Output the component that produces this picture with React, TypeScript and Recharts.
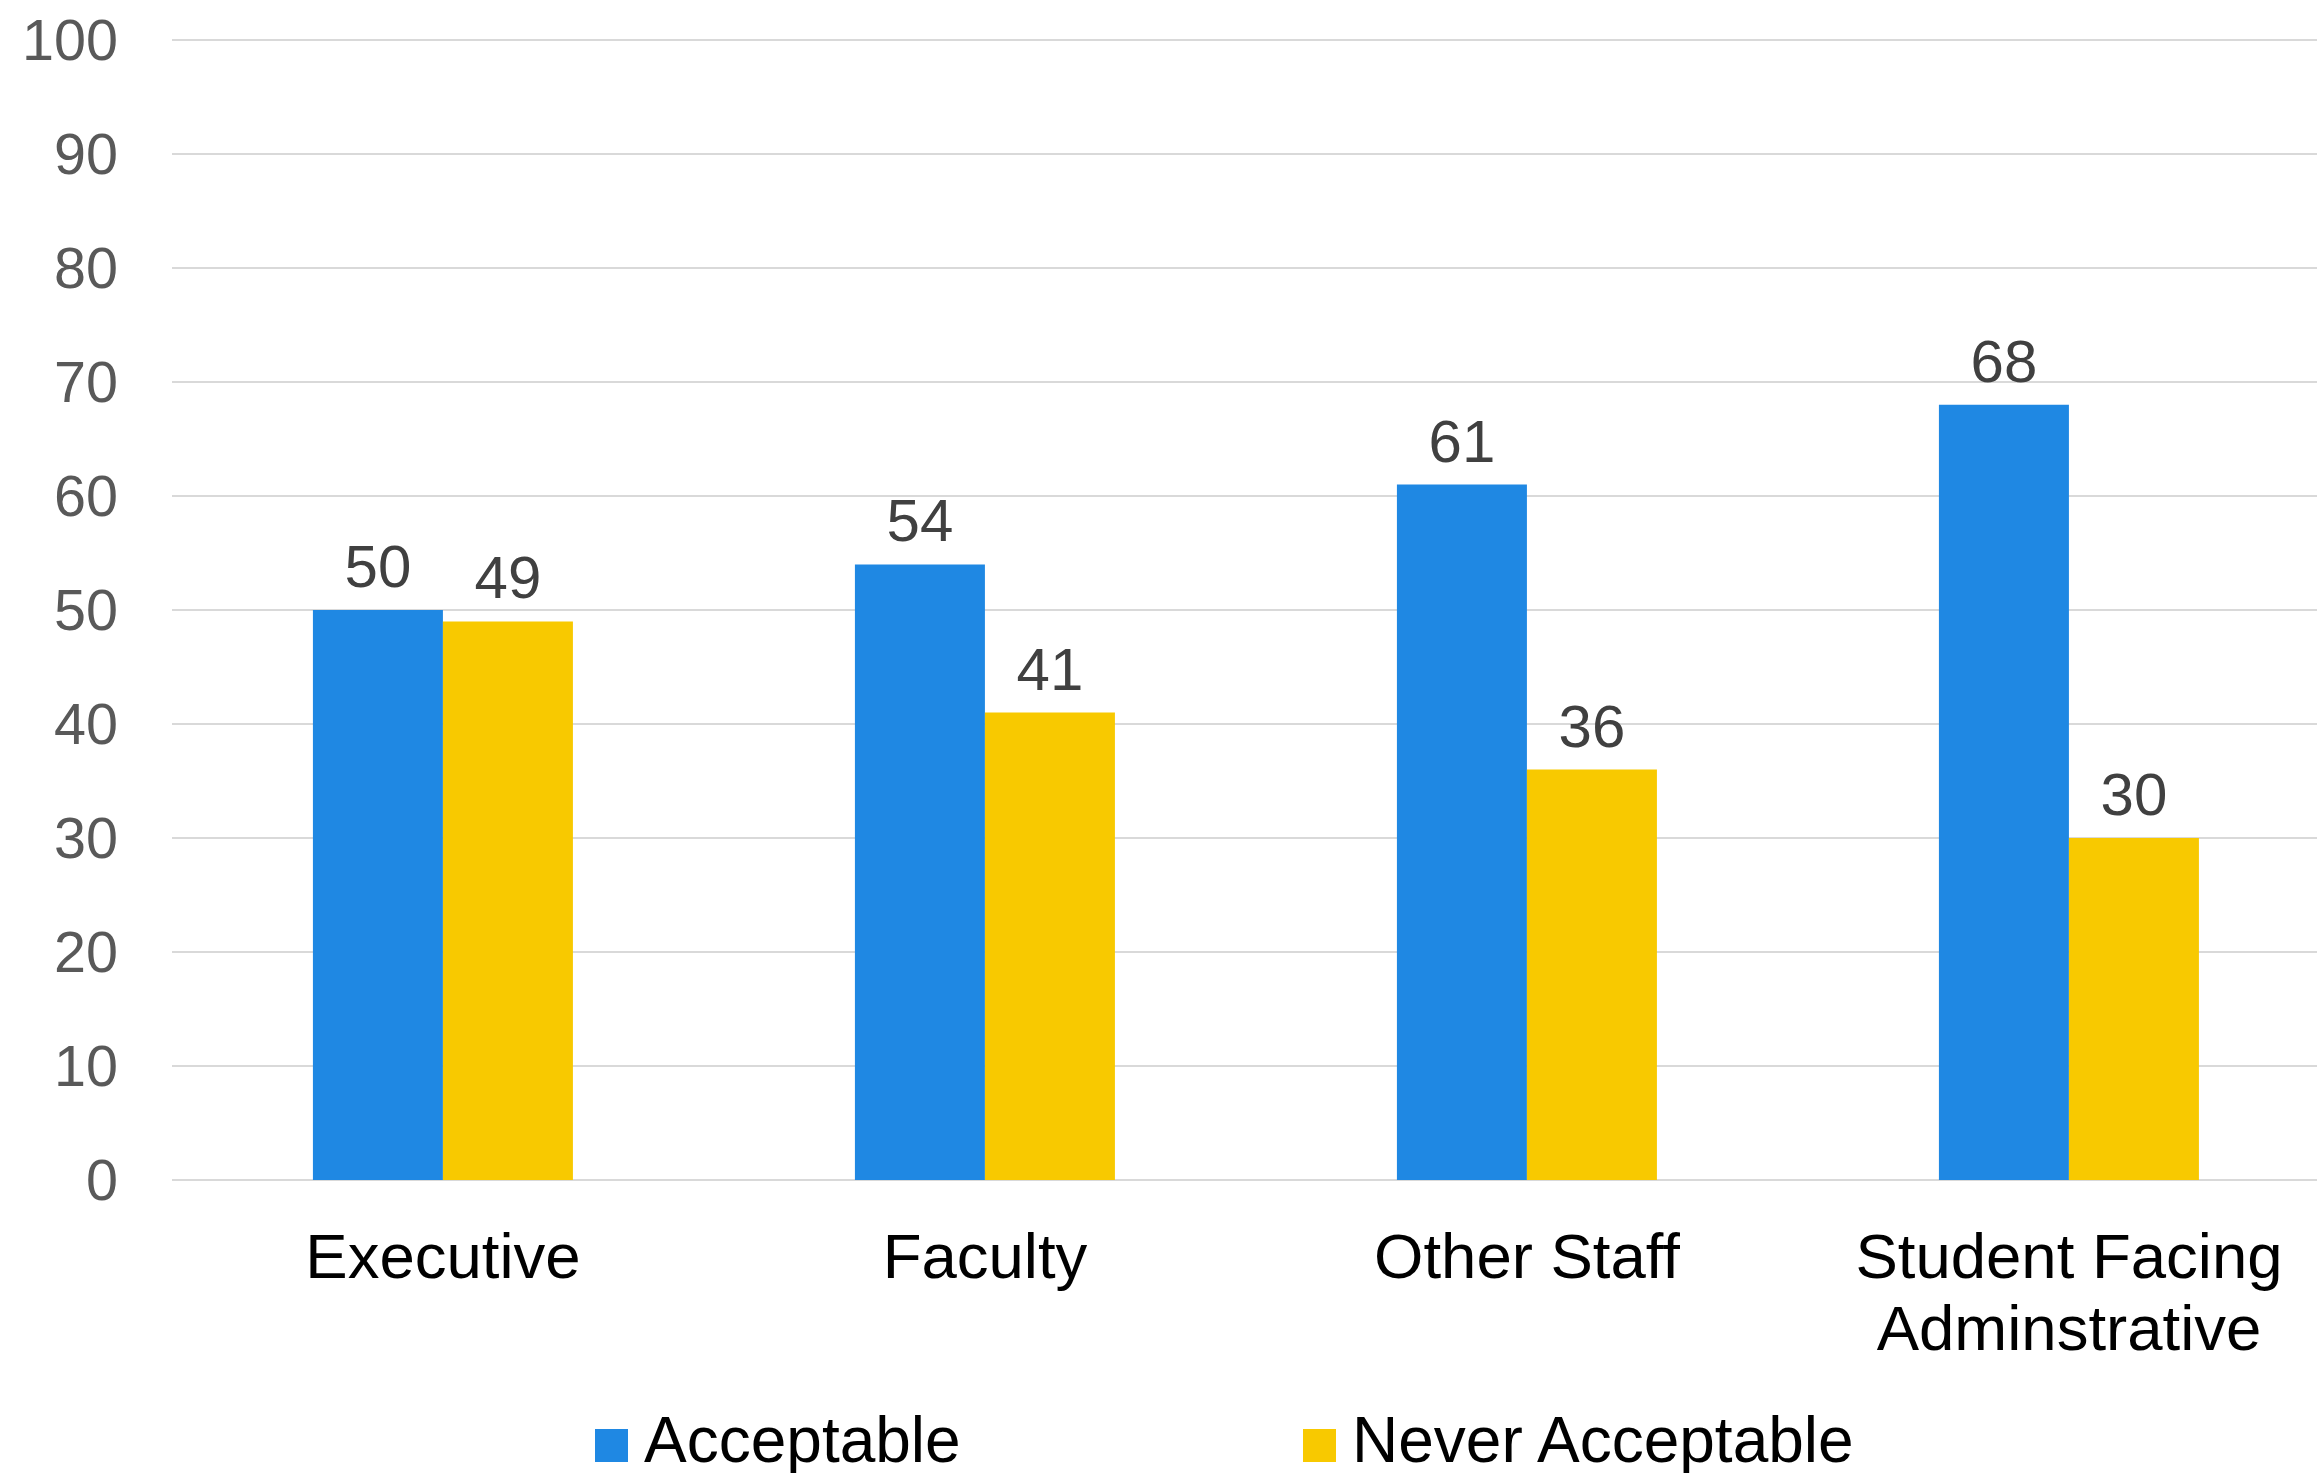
import React from 'react';
import { BarChart, Bar, XAxis, YAxis, CartesianGrid, Legend, LabelList } from 'recharts';

const categories = ['Executive', 'Faculty', 'Other Staff', 'Student Facing Adminstrative'];
const acceptable = [50, 54, 61, 68];
const neverAcceptable = [49, 41, 36, 30];
const yTicks = [0, 10, 20, 30, 40, 50, 60, 70, 80, 90, 100];

const chartData = categories.map((name, i) => ({
    name,
    acceptable: acceptable[i],
    never: neverAcceptable[i],
}));

const FONT = '"Liberation Sans", Arial, sans-serif';
const BLUE = '#1f88e3';
const YELLOW = '#f8c900';

// splits long category names on two lines like the original
const wrapLabel = (label: string): string[] => {
    if (label === 'Student Facing Adminstrative') return ['Student Facing', 'Adminstrative'];
    return [label];
};

const CategoryTick = (props: any) => {
    const { x, y, payload } = props;
    const lines = wrapLabel(payload.value);
    return (
        <text x={x} y={y + 98} textAnchor="middle" fontFamily={FONT} fontSize={63.5} fill="#000">
            {lines.map((line, i) => (
                <tspan key={i} x={x} dy={i === 0 ? 0 : 72}>{line}</tspan>
            ))}
        </text>
    );
};

const LegendContent = () => {
    const items = [
        { label: 'Acceptable', color: BLUE, left: 595 },
        { label: 'Never Acceptable', color: YELLOW, left: 1303 },
    ];
    return (
        <div style={{ position: 'relative', width: '100%', height: 80 }}>
            {items.map((item) => (
                <div key={item.label} style={{ position: 'absolute', left: item.left, top: 0, display: 'flex', alignItems: 'center' }}>
                    <div style={{ width: 33, height: 33, backgroundColor: item.color, marginTop: 10 }} />
                    <span style={{ fontFamily: FONT, fontSize: 64, color: '#000', marginLeft: 16, lineHeight: '72px' }}>{item.label}</span>
                </div>
            ))}
        </div>
    );
};

export default function App() {
    return (
        <div style={{ position: 'absolute', left: 0, top: 0, width: 2317, height: 1473, overflow: 'hidden', background: '#fff' }}>
            <BarChart
                width={2340}
                height={1473}
                data={chartData}
                margin={{ top: 40, right: 0, bottom: 173, left: 0 }}
                barCategoryGap="26%"
                barGap={0}
            >
                <CartesianGrid vertical={false} stroke="#d9d9d9" strokeWidth={2} />
                <XAxis
                    dataKey="name"
                    axisLine={false}
                    tickLine={false}
                    tickSize={0}
                    tickMargin={0}
                    height={120}
                    interval={0}
                    tick={<CategoryTick />}
                />
                <YAxis
                    domain={[0, 100]}
                    ticks={yTicks}
                    width={172}
                    axisLine={false}
                    tickLine={false}
                    tickSize={0}
                    tickMargin={54}
                    tick={{ fontFamily: FONT, fontSize: 57.5, fill: '#595959' }}
                />
                <Legend
                    layout="horizontal"
                    verticalAlign="middle"
                    align="center"
                    content={<LegendContent />}
                    wrapperStyle={{ top: 1404, left: 0, width: 2317, height: 80 }}
                />
                <Bar dataKey="acceptable" name="Acceptable" fill={BLUE} isAnimationActive={false}>
                    <LabelList dataKey="acceptable" position="top" offset={23} fontFamily={FONT} fontSize={60} fill="#404040" />
                </Bar>
                <Bar dataKey="never" name="Never Acceptable" fill={YELLOW} isAnimationActive={false}>
                    <LabelList dataKey="never" position="top" offset={23} fontFamily={FONT} fontSize={60} fill="#404040" />
                </Bar>
            </BarChart>
        </div>
    );
}
